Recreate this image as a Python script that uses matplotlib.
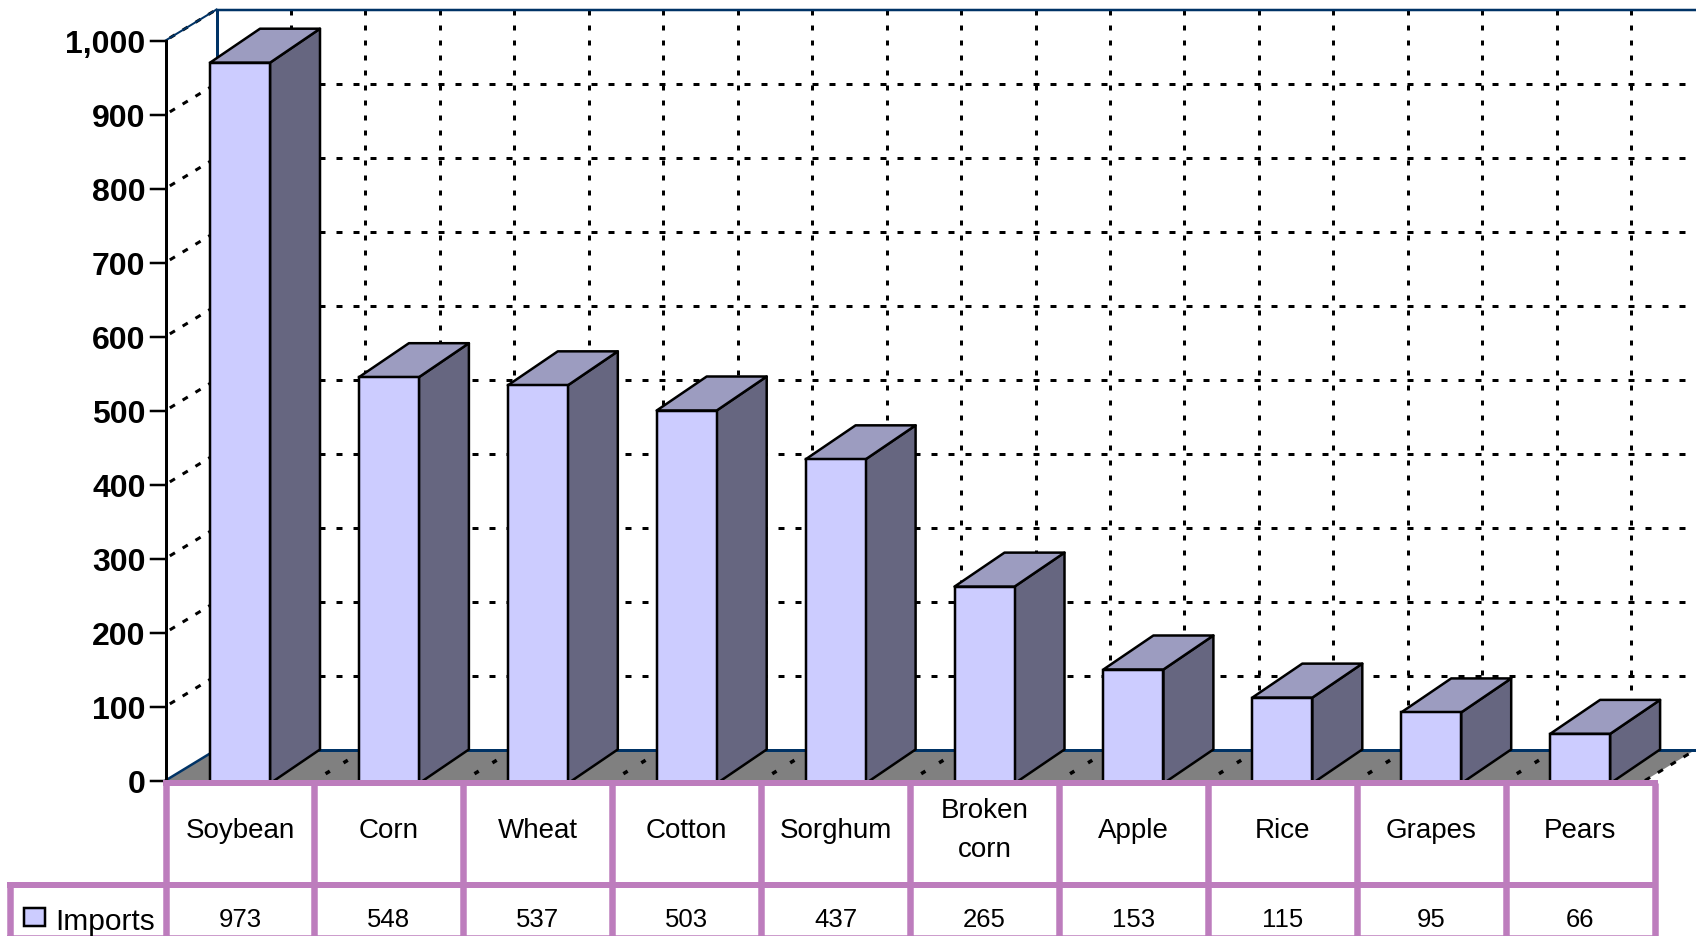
import matplotlib
matplotlib.use('Agg')
import matplotlib.pyplot as plt
from matplotlib.patches import Polygon, Rectangle

categories = ['Soybean', 'Corn', 'Wheat', 'Cotton', 'Sorghum', 'Broken\ncorn', 'Apple', 'Rice', 'Grapes', 'Pears']
imports = [973, 548, 537, 503, 437, 265, 153, 115, 95, 66]
y_ticks = [0, 100, 200, 300, 400, 500, 600, 700, 800, 900, 1000]
series_name = 'Imports'

plt.rcParams['font.family'] = ['Liberation Sans', 'DejaVu Sans']
plt.rcParams['lines.scale_dashes'] = False

# pixels per unit of the two scales, used to set the limits and the fake 3d depth
W, H = 1696, 937
X0, XSTEP = 240, 148.9
Y0, YSTEP = 781.5, 0.74
PX = 72 / 100  # one pixel in points at dpi 100

wall_dx, wall_dy = 51 / XSTEP, 31 / YSTEP
bar_dx, bar_dy = 50 / XSTEP, 34 / YSTEP
bar_w = 60 / XSTEP
bar_base = -4
bar_shift = -3  # the bars sit a little under the tick scale in the original
row1, row2, row3 = -4, -141, -210
left_edge, right_edge = -0.5, len(categories) - 0.5
legend_edge = -1.545

NAVY = '#003366'
PURPLE = '#BD7DBD'
FRONT = '#CCCCFF'
TOP = '#9C9CC0'
SIDE = '#666680'
FLOOR = '#808080'
H_DASH = (0, (6 * PX, 11 * PX))
V_DASH = (0, (5 * PX, 10 * PX))

fig = plt.figure(figsize=(W / 100, H / 100), dpi=100)
ax = fig.add_axes([0, 0, 1, 1])
ax.set_xlim(-X0 / XSTEP, (W - X0) / XSTEP)
ax.set_ylim((Y0 - H) / YSTEP, Y0 / YSTEP)
ax.axis('off')

xmax = ax.get_xlim()[1]
back_left = left_edge + wall_dx

# floor
ax.add_patch(Polygon([(left_edge, 0), (back_left, wall_dy), (xmax, wall_dy), (xmax - wall_dx, 0)],
                     facecolor=FLOOR, edgecolor='none', zorder=1))

# back wall grid
for v in y_ticks[1:-1]:
    ax.plot([back_left, xmax], [v + wall_dy, v + wall_dy], color='black', lw=3 * PX, ls=H_DASH, zorder=1)
    ax.plot([left_edge, back_left], [v, v + wall_dy], color='black', lw=3 * PX, ls=(10 * PX, (6 * PX, 9 * PX)), zorder=1)
ax.plot([left_edge, back_left], [1000, 1000 + wall_dy], color='black', lw=3 * PX, ls=(10 * PX, (6 * PX, 9 * PX)), zorder=1)
for k in range(1, 20):
    gx = back_left + k / 2
    ax.plot([gx, gx], [wall_dy, 1000 + wall_dy], color='black', lw=3 * PX, ls=V_DASH, zorder=1)
    ax.plot([gx - wall_dx, gx], [0, wall_dy], color='black', lw=3.5 * PX, ls=(8 * PX, (5 * PX, 16 * PX)), zorder=2)
ax.plot([xmax - wall_dx, xmax], [0, wall_dy], color='black', lw=3 * PX, ls=(0, (6 * PX, 9 * PX)), zorder=2)

# wall outline
ax.plot([back_left, xmax], [1000 + wall_dy] * 2, color=NAVY, lw=2.5 * PX, zorder=2)
ax.plot([back_left, xmax], [wall_dy] * 2, color=NAVY, lw=3 * PX, zorder=2)
ax.plot([back_left, back_left], [wall_dy, 1000 + wall_dy], color=NAVY, lw=3 * PX, zorder=2)
ax.plot([left_edge, back_left], [1000, 1000 + wall_dy], color=NAVY, lw=2 * PX, zorder=2)
ax.plot([left_edge, back_left], [0, wall_dy], color=NAVY, lw=2.5 * PX, zorder=2)

# y axis
ax.plot([left_edge, left_edge], [0, 1000], color='black', lw=3 * PX, zorder=5)
for v in y_ticks:
    ax.plot([left_edge - 15 / XSTEP, left_edge], [v, v], color='black', lw=2.5 * PX, zorder=5)
    ax.text(left_edge - 20 / XSTEP, v, f'{v:,}', ha='right', va='center_baseline',
            fontsize=23, fontweight='bold', color='black')

# bars
tops = [v + bar_shift for v in imports]
for i, v in enumerate(tops):
    x1, x2 = i - bar_w / 2, i + bar_w / 2
    ax.add_patch(Polygon([(x2, bar_base), (x2 + bar_dx, bar_base + bar_dy), (x2 + bar_dx, v + bar_dy), (x2, v)],
                         facecolor=SIDE, edgecolor='black', lw=2.5 * PX, joinstyle='round', zorder=3))
    ax.add_patch(Polygon([(x1, v), (x2, v), (x2 + bar_dx, v + bar_dy), (x1 + bar_dx, v + bar_dy)],
                         facecolor=TOP, edgecolor='black', lw=2.5 * PX, joinstyle='round', zorder=3))
ax.bar(range(len(tops)), [v - bar_base for v in tops], bottom=bar_base, width=bar_w,
       facecolor=FRONT, edgecolor='black', lw=2.5 * PX, zorder=4)

# data table
ax.add_patch(Rectangle((left_edge, row3), right_edge - left_edge, row1 - row3, facecolor='white', edgecolor='none', zorder=5))
ax.add_patch(Rectangle((legend_edge, row3), left_edge - legend_edge, row2 - row3, facecolor='white', edgecolor='none', zorder=5))
for k in range(len(categories) + 1):
    ax.plot([k - 0.5, k - 0.5], [row1, row3], color=PURPLE, lw=6.5 * PX, solid_capstyle='butt', zorder=6)
ax.plot([legend_edge, legend_edge], [row2, row3], color=PURPLE, lw=6.5 * PX, solid_capstyle='butt', zorder=6)
ax.plot([left_edge - 3 / XSTEP, right_edge + 3 / XSTEP], [row1, row1], color=PURPLE, lw=6 * PX, solid_capstyle='butt', zorder=6)
ax.plot([legend_edge - 3 / XSTEP, right_edge + 3 / XSTEP], [row2, row2], color=PURPLE, lw=6 * PX, solid_capstyle='butt', zorder=6)
ax.plot([legend_edge - 3 / XSTEP, right_edge + 3 / XSTEP], [row3, row3], color=PURPLE, lw=1.5 * PX, solid_capstyle='butt', zorder=6)

for i, (name, v) in enumerate(zip(categories, imports)):
    ax.text(i, (row1 + row2) / 2 + 6, name, ha='center', va='center', fontsize=20, linespacing=1.65, zorder=7)
    ax.text(i, (row2 + row3) / 2 - 12, str(v), ha='center', va='center', fontsize=18.5, zorder=7)

# legend key in the table
ax.add_patch(Rectangle((legend_edge + 14 / XSTEP, -197), 21 / XSTEP, 25, facecolor=FRONT, edgecolor='black', lw=2.5 * PX, zorder=7))
ax.text(legend_edge + 45 / XSTEP, (row2 + row3) / 2 - 14, series_name, ha='left', va='center', fontsize=21.5, zorder=7)

fig.savefig('out.png', dpi=100)
